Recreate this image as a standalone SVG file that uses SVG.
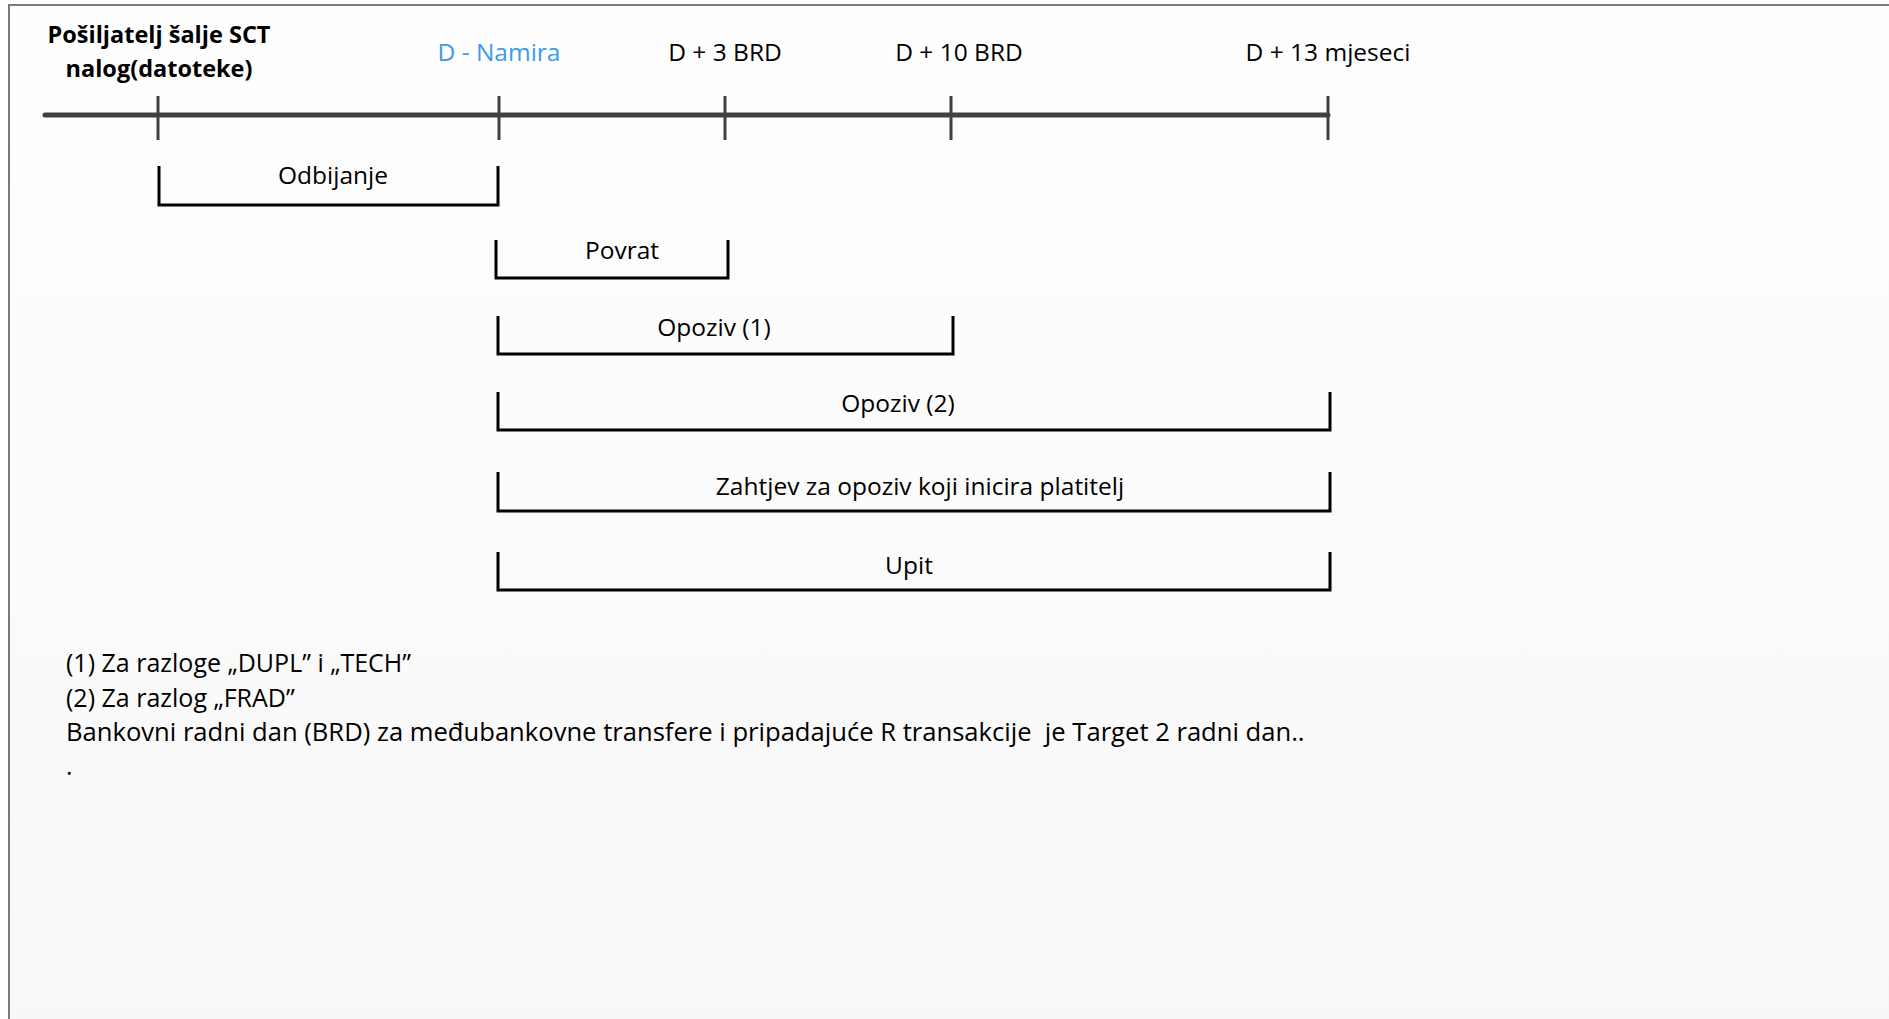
<svg xmlns="http://www.w3.org/2000/svg" width="1889" height="1019" viewBox="0 0 1889 1019">
<defs>
<linearGradient id="bg" x1="0" y1="0" x2="0" y2="1">
<stop offset="0" stop-color="#fefefe"/>
<stop offset="1" stop-color="#f8f8f8"/>
</linearGradient>
<style>
.t{font-family:"Open Sans","Liberation Sans",sans-serif;font-size:24.5px;fill:#000;white-space:pre;}
.c{text-anchor:middle;}
.b{font-weight:bold;font-size:23.5px;}
.blue{fill:#3d9bea;}
.axis{stroke:#404040;stroke-width:5;stroke-linecap:round;fill:none;}
.tick{stroke:#404040;stroke-width:3;fill:none;}
.br{stroke:#000;stroke-width:3;fill:none;}
.fn{font-size:25px;}
</style>
</defs>
<rect x="0" y="0" width="1889" height="1019" fill="#ffffff"/>
<rect x="9" y="5" width="1880" height="1014" fill="url(#bg)"/>
<path d="M9,1019 V5 H1889" stroke="#7a7a7a" stroke-width="2" fill="none"/>

<g id="timeline">
<line class="axis" x1="45" y1="115" x2="1328" y2="115"/>
<line class="tick" x1="158" y1="96" x2="158" y2="140"/>
<line class="tick" x1="499" y1="96" x2="499" y2="140"/>
<line class="tick" x1="725" y1="96" x2="725" y2="140"/>
<line class="tick" x1="951" y1="96" x2="951" y2="140"/>
<line class="tick" x1="1328" y1="96" x2="1328" y2="140"/>
</g>

<g id="label-start">
<text class="t c b" x="159" y="43">Pošiljatelj šalje SCT</text>
<text class="t c b" x="159" y="77">nalog(datoteke)</text>
</g>
<g id="label-d"><text class="t c blue" x="499" y="61">D - Namira</text></g>
<g id="label-d3"><text class="t c" x="725" y="61">D + 3 BRD</text></g>
<g id="label-d10"><text class="t c" x="959" y="61">D + 10 BRD</text></g>
<g id="label-d13"><text class="t c" x="1328" y="61">D + 13 mjeseci</text></g>

<g id="odbijanje">
<path class="br" d="M159,166 V205 H498 V166"/>
<text class="t c" x="333" y="184">Odbijanje</text>
</g>
<g id="povrat">
<path class="br" d="M496,240 V278 H728 V240"/>
<text class="t c" x="622" y="259">Povrat</text>
</g>
<g id="opoziv1">
<path class="br" d="M498,316 V354 H953 V316"/>
<text class="t c" x="714" y="336">Opoziv (1)</text>
</g>
<g id="opoziv2">
<path class="br" d="M498,392 V430 H1330 V392"/>
<text class="t c" x="898" y="412">Opoziv (2)</text>
</g>
<g id="zahtjev">
<path class="br" d="M498,472 V511 H1330 V472"/>
<text class="t c" x="920" y="495">Zahtjev za opoziv koji inicira platitelj</text>
</g>
<g id="upit">
<path class="br" d="M498,552 V590 H1330 V552"/>
<text class="t c" x="909" y="574">Upit</text>
</g>

<g id="footnotes">
<text class="t fn" x="66" y="672">(1) Za razloge „DUPL” i „TECH”</text>
<text class="t fn" x="66" y="707">(2) Za razlog „FRAD”</text>
<text class="t fn" x="66" y="741" style="font-size:25.6px">Bankovni radni dan (BRD) za međubankovne transfere i pripadajuće R transakcije  je Target 2 radni dan..</text>
<text class="t fn" x="66" y="775">.</text>
</g>
</svg>
